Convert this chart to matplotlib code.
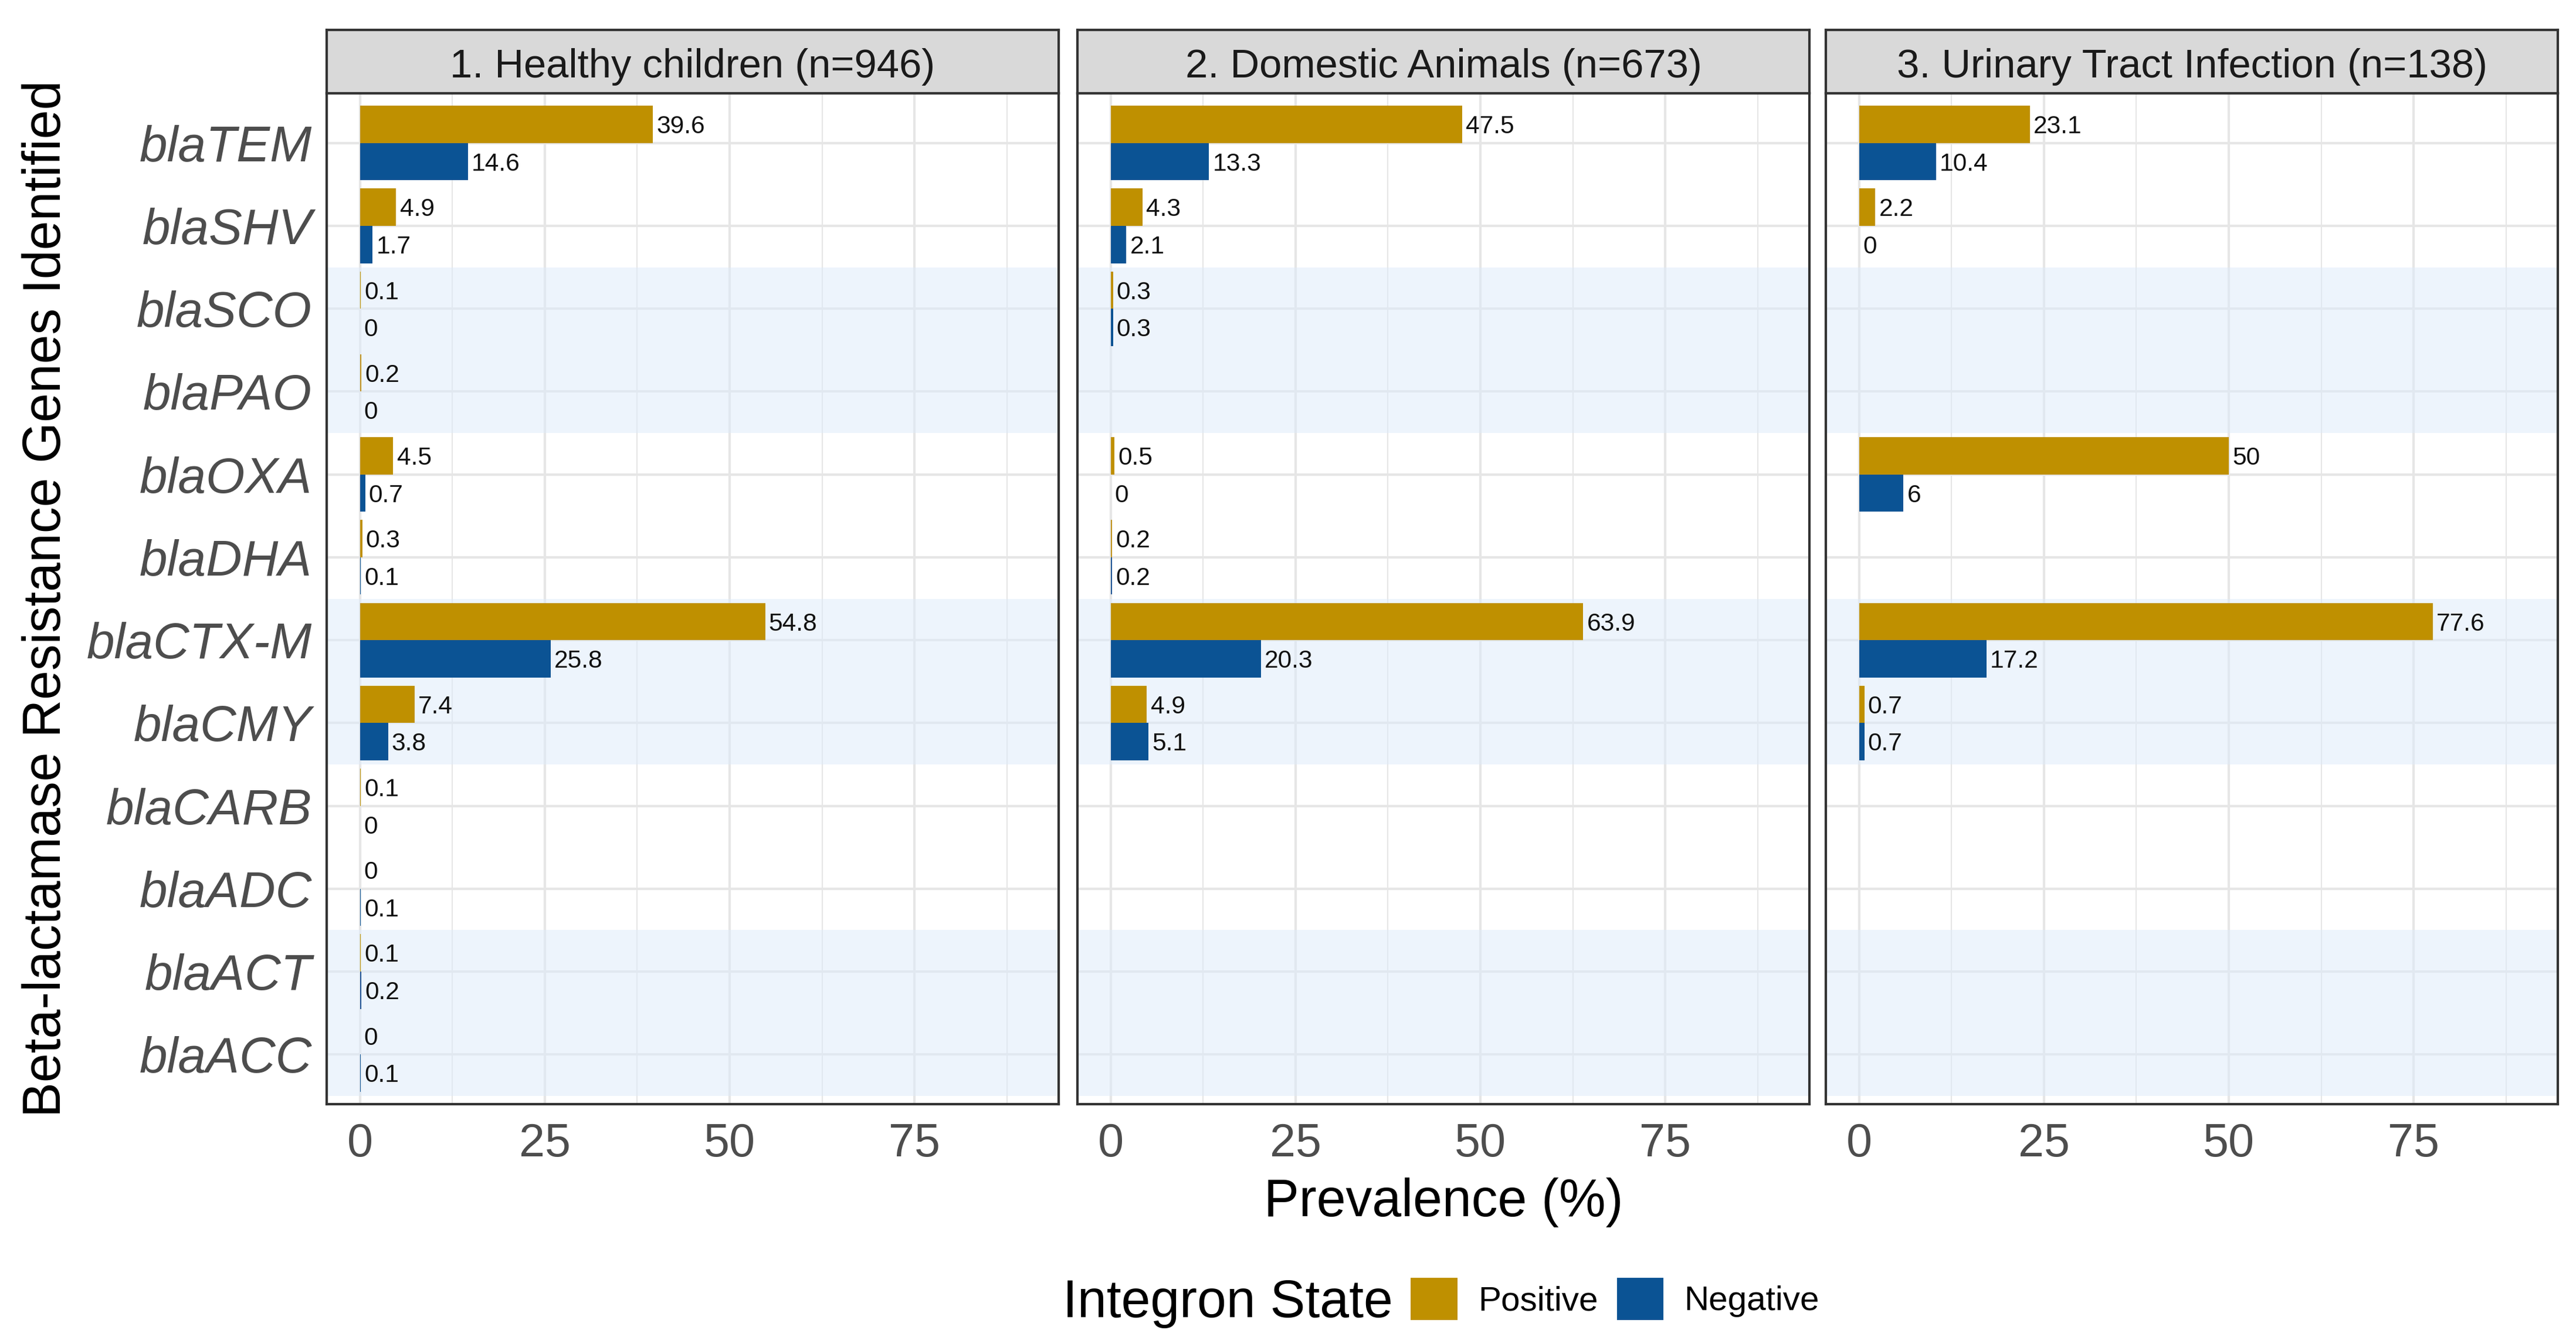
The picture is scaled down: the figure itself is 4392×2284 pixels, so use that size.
import numpy as np
import matplotlib
matplotlib.use("Agg")
import matplotlib.pyplot as plt
from matplotlib.patches import Patch

plt.rcParams['font.family'] = ['Liberation Sans', 'DejaVu Sans']

genes = ["blaTEM", "blaSHV", "blaSCO", "blaPAO", "blaOXA", "blaDHA",
         "blaCTX-M", "blaCMY", "blaCARB", "blaADC", "blaACT", "blaACC"]

panels = ["1. Healthy children (n=946)",
          "2. Domestic Animals (n=673)",
          "3. Urinary Tract Infection (n=138)"]

# prevalence (%) per gene, None = gene not found in that group
children_pos = [39.6, 4.9, 0.1, 0.2, 4.5, 0.3, 54.8, 7.4, 0.1, 0, 0.1, 0]
children_neg = [14.6, 1.7, 0, 0, 0.7, 0.1, 25.8, 3.8, 0, 0.1, 0.2, 0.1]
animals_pos = [47.5, 4.3, 0.3, None, 0.5, 0.2, 63.9, 4.9, None, None, None, None]
animals_neg = [13.3, 2.1, 0.3, None, 0, 0.2, 20.3, 5.1, None, None, None, None]
uti_pos = [23.1, 2.2, None, None, 50, None, 77.6, 0.7, None, None, None, None]
uti_neg = [10.4, 0, None, None, 6, None, 17.2, 0.7, None, None, None, None]

pos_series = [children_pos, animals_pos, uti_pos]
neg_series = [children_neg, animals_neg, uti_neg]

shaded_pairs = [(2, 3), (6, 7), (10, 11)]

col_pos = "#BF9000"
col_neg = "#0B5394"
grid_col = "#E6E6E6"
edge_col = "#333333"

W, H = 4392, 2284
fig = plt.figure(figsize=(W / 300, H / 300), dpi=300)

lefts = [557, 1837, 3113]
pw = 1248
ptop, pbot = 159, 1882
stop = 51

y = np.arange(len(genes))
bw = 0.45

for i in range(3):
    ax = fig.add_axes([lefts[i] / W, 1 - pbot / H, pw / W, (pbot - ptop) / H])
    ax.set_xlim(-4.5, 94.5)
    ax.set_ylim(len(genes) - 1 + 0.6, -0.6)

    ax.set_xticks([0, 25, 50, 75])
    ax.set_xticks([12.5, 37.5, 62.5, 87.5], minor=True)
    ax.set_yticks(y)
    ax.grid(True, which='major', color=grid_col, linewidth=1.0, zorder=0)
    ax.grid(True, which='minor', axis='x', color=grid_col, linewidth=0.5, zorder=0)
    ax.set_axisbelow(True)

    for a, b in shaded_pairs:
        ax.axhspan(a - 0.5, b + 0.5, color="#DDEBFB", alpha=0.5, lw=0, zorder=1)

    pv = pos_series[i]
    nv = neg_series[i]
    for j in range(len(genes)):
        if pv[j] is not None:
            ax.barh(y[j] - bw / 2, pv[j], height=bw, color=col_pos, lw=0, zorder=2)
            ax.annotate(f"{pv[j]:g}", (pv[j], y[j] - bw / 2), xytext=(1.5, -1),
                        textcoords='offset points', ha='left', va='center',
                        fontsize=10.2, color='#111111', zorder=3)
        if nv[j] is not None:
            ax.barh(y[j] + bw / 2, nv[j], height=bw, color=col_neg, lw=0, zorder=2)
            ax.annotate(f"{nv[j]:g}", (nv[j], y[j] + bw / 2), xytext=(1.5, -1),
                        textcoords='offset points', ha='left', va='center',
                        fontsize=10.2, color='#111111', zorder=3)

    ax.tick_params(axis='x', which='both', length=0, pad=7.5, labelsize=19, labelcolor='#4D4D4D')
    ax.tick_params(axis='y', which='both', length=0, pad=6, labelsize=20.5, labelcolor='#4D4D4D')
    if i == 0:
        ax.set_yticklabels(genes, style='italic')
    else:
        ax.set_yticklabels([])
    for s in ax.spines.values():
        s.set_color(edge_col)
        s.set_linewidth(1.0)
        s.set_zorder(5)

    # facet strip
    sx = fig.add_axes([lefts[i] / W, 1 - ptop / H, pw / W, (ptop - stop) / H])
    sx.set_facecolor("#D9D9D9")
    sx.set_xticks([])
    sx.set_yticks([])
    for s in sx.spines.values():
        s.set_color(edge_col)
        s.set_linewidth(1.0)
    sx.text(0.5, 0.42, panels[i], ha='center', va='center', fontsize=16.5,
            color='#1A1A1A', transform=sx.transAxes)

fig.text(80 / W, 1 - 1020 / H, "Beta-lactamase Resistance Genes Identified",
         rotation=90, ha='center', va='center', fontsize=21.5)
fig.text(2461 / W, 1 - 2050 / H, "Prevalence (%)", ha='center', va='center', fontsize=21.5)

fig.text(2375 / W, 1 - 2222 / H, "Integron State", ha='right', va='center', fontsize=21.5)
handles = [Patch(facecolor=col_pos, edgecolor='none', label="Positive"),
           Patch(facecolor=col_neg, edgecolor='none', label="Negative")]
fig.legend(handles=handles, loc='center left', bbox_to_anchor=(2405 / W, 1 - 2214 / H),
           ncol=2, frameon=False, fontsize=14, handlelength=1.37, handleheight=1.5,
           handletextpad=0.6, columnspacing=0.55, borderpad=0, borderaxespad=0)

fig.savefig("out.png", dpi=300)
